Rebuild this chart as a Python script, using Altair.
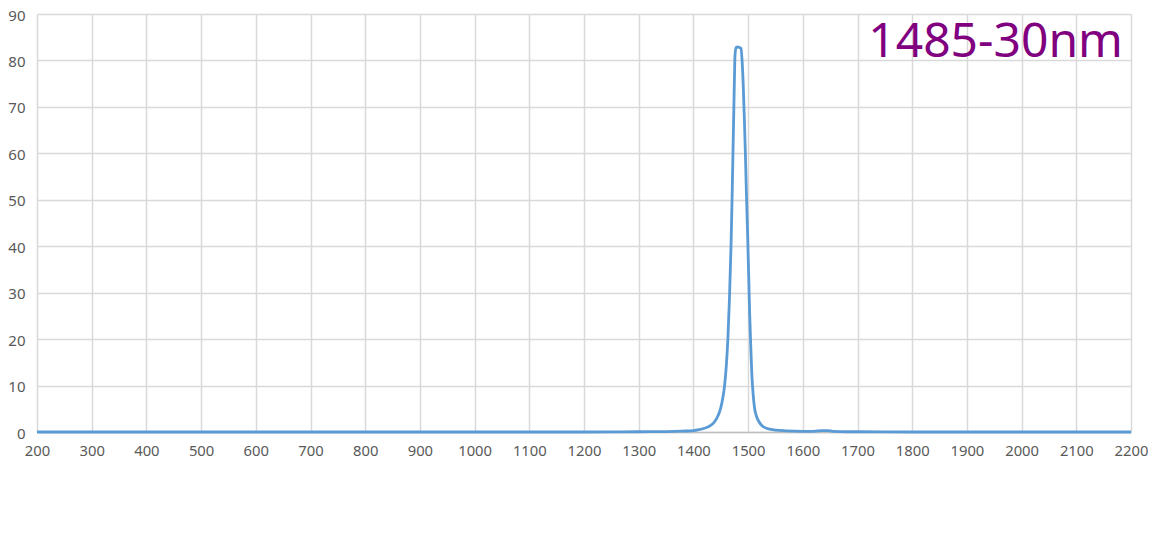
import altair as alt
import pandas as pd

wavelength = [200, 400, 600, 800, 1000, 1200, 1300, 1350, 1380, 1400, 1410, 1420, 1430,
              1438, 1445, 1450, 1454, 1457, 1460, 1463, 1466, 1469, 1471, 1473, 1474,
              1475, 1476, 1478, 1481, 1484, 1487, 1489, 1491, 1493, 1495, 1497, 1499,
              1501, 1503, 1505, 1507, 1509, 1512, 1515, 1520, 1525, 1530, 1540, 1550,
              1570, 1600, 1620, 1635, 1645, 1655, 1680, 1700, 1800, 2000, 2200]
transmission = [0, 0, 0, 0, 0, 0, 0.05, 0.1, 0.2, 0.3, 0.5, 0.8, 1.3,
                2.1, 3.5, 5.2, 7.5, 10, 14, 20, 29, 41, 52, 64, 70,
                76, 81, 82.8, 82.9, 82.8, 82.6, 80, 75, 68, 60, 51, 43,
                34, 25, 18, 12, 8.5, 5, 3.5, 2.2, 1.4, 1.0, 0.6, 0.4,
                0.25, 0.15, 0.15, 0.3, 0.3, 0.15, 0.05, 0.05, 0, 0, 0]
x_ticks = list(range(200, 2201, 100))
y_ticks = list(range(0, 91, 10))
label_text = ["1485-30nm"]

df = pd.DataFrame({"wl": wavelength, "t": transmission})

line = alt.Chart(df).mark_line(color="#5b9bd5", strokeWidth=2.8, interpolate="monotone").encode(
    x=alt.X("wl:Q", scale=alt.Scale(domain=[200, 2200], nice=False),
            axis=alt.Axis(values=x_ticks, format="d", title=None, grid=True, gridColor="#d9d9d9",
                          gridWidth=1.5, ticks=False, domainColor="#bfbfbf", domainWidth=1.5,
                          labelColor="#595959", labelFontSize=14.8, labelFont="Noto Sans",
                          labelPadding=11, labelFlush=False)),
    y=alt.Y("t:Q", scale=alt.Scale(domain=[0, 90], nice=False),
            axis=alt.Axis(values=y_ticks, format="d", title=None, grid=True, gridColor="#d9d9d9",
                          gridWidth=1.5, ticks=False, domain=False,
                          labelColor="#595959", labelFontSize=15, labelFont="Noto Sans",
                          labelPadding=12, labelOffset=1)),
)

txt = alt.Chart(pd.DataFrame({"label": label_text})).mark_text(
    align="right", baseline="alphabetic", font="Noto Sans", fontSize=48, color="#800080"
).encode(text="label:N", x=alt.value(1086), y=alt.value(43))

chart = alt.layer(line, txt).properties(
    width=1094, height=418,
    autosize=alt.AutoSizeParams(type="none"),
    padding={"left": 29, "top": 6, "right": 17, "bottom": 70},
).configure_view(stroke=None)

chart.save("out.html", embed_options={"renderer": "svg", "actions": False})
